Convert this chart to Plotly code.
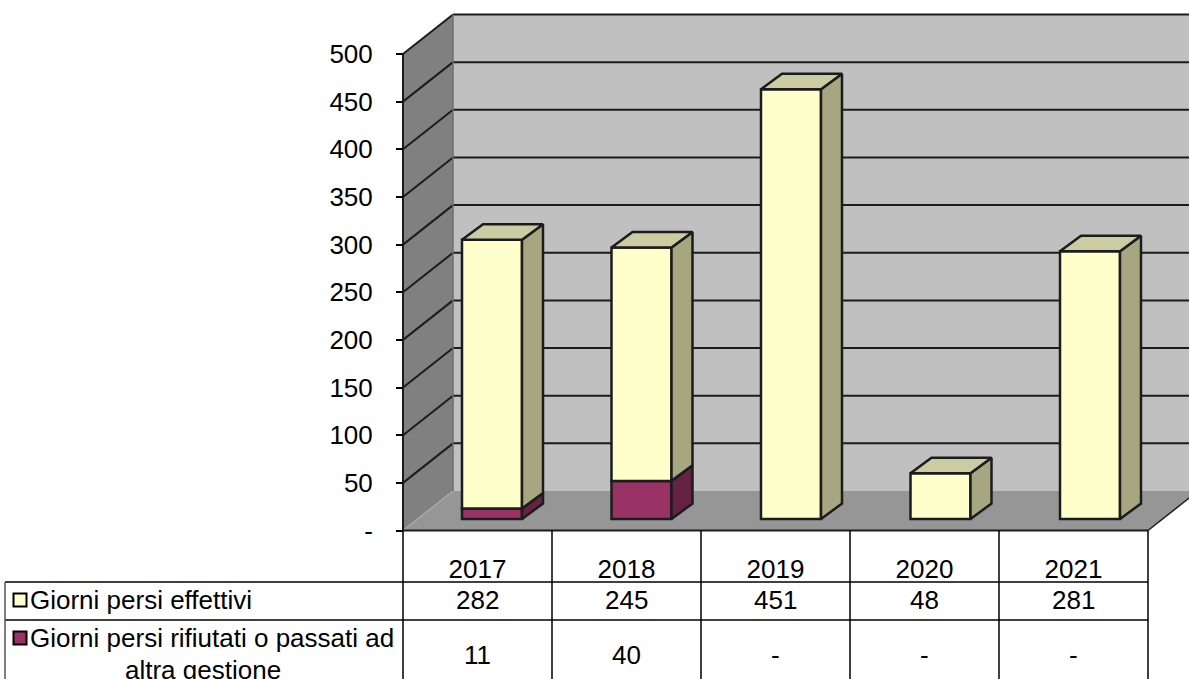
import plotly.graph_objects as go

# ---- data ----
years = ["2017", "2018", "2019", "2020", "2021"]
effettivi = [282, 245, 451, 48, 281]
rifiutati = [11, 40, 0, 0, 0]
tick_values = [0, 50, 100, 150, 200, 250, 300, 350, 400, 450, 500]
tick_labels = ["-", "50", "100", "150", "200", "250", "300", "350", "400", "450", "500"]
label_effettivi = "Giorni persi effettivi"
label_rifiutati_1 = "Giorni persi rifiutati o passati ad"
label_rifiutati_2 = "altra gestione"

# ---- geometry of the projection ----
W, H = 1189, 679
X0, CAT_W = 403.0, 149.0
Y0, PX_PER_UNIT = 530.5, 0.953
Y_MAX = 500
wall_dx, wall_dy = 50 / CAT_W, 39.5 / PX_PER_UNIT
bar_w = 60 / CAT_W
bar_step = 149.5 / CAT_W
bar_off_x, bar_off_y = 14.5 / CAT_W, 11.5 / PX_PER_UNIT
bar_dx, bar_dy = 21 / CAT_W, 15.5 / PX_PER_UNIT
n = len(years)
FONT = "Liberation Sans"
FS = 26

x_range = [-X0 / CAT_W, (W - X0) / CAT_W]
y_range = [(Y0 - H) / PX_PER_UNIT, Y0 / PX_PER_UNIT]
LINE = "#1c1c1c"


def px(xp):
    return xp / W


def py(yp):
    return 1 - yp / H


def path(points):
    return "M " + " L ".join(f"{a},{b}" for a, b in points) + " Z"


shapes = []
# side wall, back wall, floor
shapes.append(dict(type="path", layer="below", xref="x", yref="y", fillcolor="#808080", line=dict(width=0),
                   path=path([(0, 0), (wall_dx, wall_dy), (wall_dx, Y_MAX + wall_dy), (0, Y_MAX)])))
shapes.append(dict(type="path", layer="below", xref="x", yref="y", fillcolor="#C0C0C0", line=dict(width=0),
                   path=path([(wall_dx, wall_dy), (n + wall_dx, wall_dy), (n + wall_dx, Y_MAX + wall_dy), (wall_dx, Y_MAX + wall_dy)])))
shapes.append(dict(type="path", layer="below", xref="x", yref="y", fillcolor="#969696", line=dict(width=0),
                   path=path([(0, 0), (n, 0), (n + wall_dx, wall_dy), (wall_dx, wall_dy)])))
# gridlines over side wall and back wall
for v in tick_values:
    if v > 0:
        shapes.append(dict(type="line", layer="below", xref="x", yref="y", x0=0, y0=v, x1=wall_dx, y1=v + wall_dy,
                           line=dict(color=LINE, width=2)))
        shapes.append(dict(type="line", layer="below", xref="x", yref="y", x0=wall_dx, y0=v + wall_dy, x1=n + wall_dx, y1=v + wall_dy,
                           line=dict(color=LINE, width=2)))
# edges of the box
shapes.append(dict(type="line", layer="below", xref="x", yref="y", x0=0, y0=0, x1=wall_dx, y1=wall_dy,
                   line=dict(color="#a8a8a8", width=1.5)))
shapes.append(dict(type="line", layer="below", xref="x", yref="y", x0=wall_dx, y0=wall_dy, x1=wall_dx, y1=Y_MAX + wall_dy,
                   line=dict(color="#6e6e6e", width=1.5)))
shapes.append(dict(type="line", layer="below", xref="x", yref="y", x0=0, y0=0, x1=0, y1=Y_MAX,
                   line=dict(color=LINE, width=2)))
shapes.append(dict(type="line", layer="below", xref="x", yref="y", x0=0, y0=0, x1=n, y1=0,
                   line=dict(color=LINE, width=2)))
shapes.append(dict(type="line", layer="below", xref="x", yref="y", x0=n, y0=0, x1=n + wall_dx, y1=wall_dy,
                   line=dict(color=LINE, width=1.5)))

# table lines
T_TOP, T_R1, T_LEFT = 582, 620, 5
for i in range(n + 1):
    xp = X0 + i * CAT_W
    shapes.append(dict(type="line", xref="paper", yref="paper", x0=px(xp), x1=px(xp), y0=py(Y0), y1=py(H),
                       line=dict(color="#000000", width=1.5)))
for yp in (T_TOP, T_R1):
    shapes.append(dict(type="line", xref="paper", yref="paper", x0=px(T_LEFT), x1=px(X0 + n * CAT_W), y0=py(yp), y1=py(yp),
                       line=dict(color="#000000", width=1.5)))
shapes.append(dict(type="line", xref="paper", yref="paper", x0=px(T_LEFT), x1=px(T_LEFT), y0=py(T_TOP), y1=py(H),
                   line=dict(color="#555555", width=1.5)))

fig = go.Figure()
centres = [0.5 + bar_off_x + i * bar_step for i in range(n)]

# front faces
lower_base = [bar_off_y] * n
upper_base = [bar_off_y + r for r in rifiutati]
fig.add_trace(go.Bar(x=centres, y=[r if r > 0 else None for r in rifiutati], base=lower_base, width=bar_w,
                     marker=dict(color="#993366", line=dict(color=LINE, width=2.5)), showlegend=False))
fig.add_trace(go.Bar(x=centres, y=effettivi, base=upper_base, width=bar_w,
                     marker=dict(color="#FFFFCC", line=dict(color=LINE, width=2.5)), showlegend=False))


def face(points, color):
    xs = [p[0] for p in points] + [points[0][0]]
    ys = [p[1] for p in points] + [points[0][1]]
    fig.add_trace(go.Scatter(x=xs, y=ys, mode="lines", fill="toself", fillcolor=color,
                             line=dict(color=LINE, width=2.5), hoverinfo="skip", showlegend=False))


for c, eff, rif, b in zip(centres, effettivi, rifiutati, lower_base):
    r_x = c + bar_w / 2
    l_x = c - bar_w / 2
    y1 = b + rif
    y2 = y1 + eff
    if rif > 0:
        face([(r_x, b), (r_x + bar_dx, b + bar_dy), (r_x + bar_dx, y1 + bar_dy), (r_x, y1)], "#662244")
    face([(r_x, y1), (r_x + bar_dx, y1 + bar_dy), (r_x + bar_dx, y2 + bar_dy), (r_x, y2)], "#A6A680")
    face([(l_x, y2), (r_x, y2), (r_x + bar_dx, y2 + bar_dy), (l_x + bar_dx, y2 + bar_dy)], "#CCCCA3")

# legend keys inside the table
key_x = (20 - X0) / CAT_W
fig.add_trace(go.Scatter(x=[key_x, key_x], y=[(Y0 - 600) / PX_PER_UNIT, (Y0 - 638) / PX_PER_UNIT], mode="markers",
                         marker=dict(symbol="square", size=13, color=["#FFFFCC", "#993366"], line=dict(color="#000000", width=2)),
                         hoverinfo="skip", showlegend=False, cliponaxis=False))

# table text
annotations = []


def put(text, xp, yp, anchor="center"):
    annotations.append(dict(text=text, xref="paper", yref="paper", x=px(xp), y=py(yp), xanchor=anchor, yanchor="middle",
                            showarrow=False, font=dict(family=FONT, size=FS, color="#000000"), borderpad=0, borderwidth=0))


put(label_effettivi, 30, 600, "left")
put(label_rifiutati_1, 30, 638, "left")
put(label_rifiutati_2, 203, 670)
for i in range(n):
    xc = X0 + (i + 0.5) * CAT_W
    put(str(effettivi[i]), xc, 600)
    put(str(rifiutati[i]) if rifiutati[i] else "-", xc, 655)

fig.update_layout(
    width=W, height=H, margin=dict(l=0, r=0, t=0, b=0, pad=0), autosize=False,
    paper_bgcolor="#FFFFFF", plot_bgcolor="#FFFFFF", barmode="overlay", showlegend=False,
    font=dict(family=FONT, size=FS, color="#000000"), shapes=shapes, annotations=annotations,
    xaxis=dict(range=x_range, domain=[0, 1], anchor="free", position=1 - Y0 / H, showgrid=False, zeroline=False,
               showline=False, tickmode="array", tickvals=[i + 0.5 for i in range(n)], ticktext=years,
               ticks="", ticklabelstandoff=20, fixedrange=True, tickangle=0),
    yaxis=dict(range=y_range, domain=[0, 1], anchor="free", position=X0 / W, showgrid=False, zeroline=False,
               showline=False, tickmode="array", tickvals=tick_values, ticktext=tick_labels,
               ticks="outside", ticklen=7, tickwidth=1.5, tickcolor="#000000", ticklabelstandoff=18, fixedrange=True),
)
fig.write_html("out.html", config=dict(displayModeBar=False),
               post_script="document.body.style.margin='0';document.documentElement.style.overflow='hidden';")
